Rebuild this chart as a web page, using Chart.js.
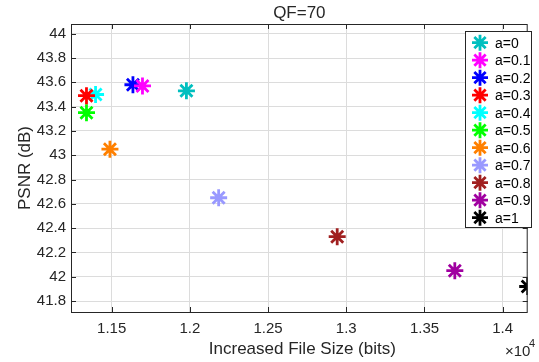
<!DOCTYPE html>
<html>
<head>
<meta charset="utf-8">
<script src="https://cdn.jsdelivr.net/npm/chart.js@4.4.0/dist/chart.umd.min.js"></script>
<style>
  html, body { margin: 0; padding: 0; background: #fff; }
  #wrap { width: 539px; height: 362px; }
</style>
</head>
<body>
<div id="wrap"><canvas id="psnr-chart"></canvas></div>
<script>
// one point per "a" value
const seriesLabels = ["a=0", "a=0.1", "a=0.2", "a=0.3", "a=0.4", "a=0.5", "a=0.6", "a=0.7", "a=0.8", "a=0.9", "a=1"];
const fileSizes = [11978, 11697, 11636, 11339, 11397, 11339, 11489, 12184, 12942, 13694, 14160];
const psnrValues = [43.53, 43.57, 43.58, 43.49, 43.50, 43.35, 43.05, 42.65, 42.33, 42.05, 41.92];
const markerColors = ["#00BFBF", "#FF00FF", "#0000FF", "#FF0000", "#00FFFF", "#00FF00", "#FF8000", "#9999FF", "#A02020", "#A000A0", "#000000"];
const xTicks = [11500, 12000, 12500, 13000, 13500, 14000];
const yTicks = [41.8, 42, 42.2, 42.4, 42.6, 42.8, 43, 43.2, 43.4, 43.6, 43.8, 44];

const FONT = "'Liberation Sans', Arial, Helvetica, sans-serif";
const TEXT = "#262626";
Chart.defaults.font.family = FONT;

const datasets = seriesLabels.map((lab, i) => ({
  label: lab,
  data: [{ x: fileSizes[i], y: psnrValues[i] }],
  pointStyle: "star",
  pointRadius: 8.5,
  pointBorderWidth: 2.8,
  borderColor: markerColors[i],
  backgroundColor: markerColors[i],
  clip: 0,
}));

function drawStar(ctx, x, y, r, color) {
  ctx.save();
  ctx.strokeStyle = color;
  ctx.lineWidth = 2.8;
  ctx.beginPath();
  for (let k = 0; k < 4; k++) {
    const a = k * Math.PI / 4;
    ctx.moveTo(x - Math.cos(a) * r, y - Math.sin(a) * r);
    ctx.lineTo(x + Math.cos(a) * r, y + Math.sin(a) * r);
  }
  ctx.stroke();
  ctx.restore();
}

// matlab style frame, inward ticks, titles and legend
const decorations = {
  id: "decorations",
  afterDraw(chart) {
    const { ctx, chartArea: a, scales } = chart;
    ctx.save();
    // frame
    ctx.strokeStyle = TEXT;
    ctx.lineWidth = 1;
    ctx.strokeRect(a.left + 0.5, a.top + 0.5, a.right - a.left - 1, a.bottom - a.top);
    // ticks
    ctx.beginPath();
    xTicks.forEach(v => {
      const px = Math.round(scales.x.getPixelForValue(v)) + 0.5;
      ctx.moveTo(px, a.bottom); ctx.lineTo(px, a.bottom - 5);
      ctx.moveTo(px, a.top); ctx.lineTo(px, a.top + 5);
    });
    yTicks.forEach(v => {
      const py = Math.round(scales.y.getPixelForValue(v)) + 0.5;
      ctx.moveTo(a.left, py); ctx.lineTo(a.left + 5, py);
      ctx.moveTo(a.right, py); ctx.lineTo(a.right - 5, py);
    });
    ctx.stroke();

    ctx.fillStyle = TEXT;
    ctx.textAlign = "center";
    ctx.textBaseline = "middle";
    ctx.font = "17px " + FONT;
    ctx.fillText("QF=70", (a.left + a.right) / 2, 13);
    ctx.fillText("Increased File Size (bits)", (a.left + a.right) / 2 + 3, 349);
    ctx.save();
    ctx.translate(25, (a.top + a.bottom) / 2);
    ctx.rotate(-Math.PI / 2);
    ctx.fillText("PSNR (dB)", 0, 0);
    ctx.restore();

    // exponent
    ctx.textAlign = "left";
    ctx.textBaseline = "alphabetic";
    ctx.font = "15px " + FONT;
    ctx.fillText("\u00d710", 505, 356);
    ctx.font = "11px " + FONT;
    ctx.fillText("4", 529, 347);

    // legend
    const lx = 465, ly = 31, lw = 66, lh = 196;
    ctx.fillStyle = "#fff";
    ctx.fillRect(lx, ly, lw, lh);
    ctx.strokeStyle = TEXT;
    ctx.strokeRect(lx + 0.5, ly + 0.5, lw, lh);
    ctx.font = "14px " + FONT;
    ctx.textBaseline = "middle";
    seriesLabels.forEach((lab, i) => {
      const yy = 42.7 + i * 17.5;
      drawStar(ctx, 480, yy, 8, markerColors[i]);
      ctx.fillStyle = "#000";
      ctx.fillText(lab, 495, yy + 1);
    });
    ctx.restore();
  }
};

new Chart(document.getElementById("psnr-chart"), {
  type: "scatter",
  data: { datasets: datasets },
  options: {
    responsive: true,
    maintainAspectRatio: false,
    animation: false,
    layout: { padding: { top: 24, right: 1, left: 0, bottom: 0 } },
    plugins: {
      legend: { display: false },
      tooltip: { enabled: false },
      title: { display: false },
    },
    scales: {
      x: {
        type: "linear",
        min: 11240,
        max: 14160,
        afterFit: s => { s.height = 50; },
        afterBuildTicks: s => { s.ticks = xTicks.map(v => ({ value: v })); },
        grid: { color: "#dcdcdc", drawTicks: false },
        border: { display: false },
        ticks: {
          color: TEXT,
          font: { size: 15 },
          padding: 8,
          maxRotation: 0,
          autoSkip: false,
          callback: v => String(+(v / 10000).toFixed(2)),
        },
      },
      y: {
        type: "linear",
        min: 41.71,
        max: 44.08,
        afterFit: s => { s.width = 71; },
        afterBuildTicks: s => { s.ticks = yTicks.map(v => ({ value: v })); },
        grid: { color: "#dcdcdc", drawTicks: false },
        border: { display: false },
        ticks: {
          color: TEXT,
          font: { size: 15 },
          padding: 5,
          autoSkip: false,
          callback: v => String(+v.toFixed(1)),
        },
      },
    },
  },
  plugins: [decorations],
});
</script>
</body>
</html>
